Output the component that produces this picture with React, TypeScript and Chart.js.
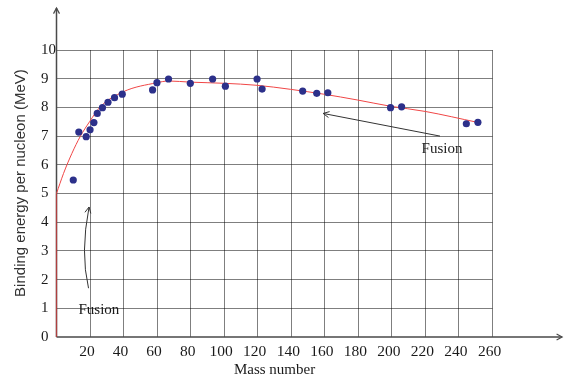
import { useEffect, useRef } from 'react';
import { Chart, registerables } from 'chart.js';

Chart.register(...registerables);

// Measured nuclides: mass number and binding energy per nucleon (MeV)
const massNumber = [10, 13.3, 17.7, 20, 22.3, 24.3, 27.4, 30.7, 34.6, 39.2, 57.3, 59.9, 66.8, 79.8, 93.1, 100.7, 119.6, 122.6, 146.8, 155.2, 161.8, 199.2, 205.8, 244.4, 251.3];
const bindingEnergy = [5.47, 7.14, 6.98, 7.22, 7.47, 7.79, 7.99, 8.18, 8.34, 8.46, 8.61, 8.86, 8.99, 8.84, 8.99, 8.74, 8.99, 8.64, 8.57, 8.49, 8.51, 7.99, 8.02, 7.43, 7.48];

// Red trend curve
const curveMass = [0, 4.2, 9.2, 14.1, 19.7, 26.1, 40, 59.9, 66.8, 79.8, 99.8, 119.6, 139.5, 159.4, 179.3, 199.2, 219.8, 251];
const curveEnergy = [5, 5.7, 6.4, 6.98, 7.5, 8.02, 8.55, 8.86, 8.92, 8.88, 8.84, 8.77, 8.63, 8.46, 8.26, 8.04, 7.86, 7.48];
const riseMass = [0, 0];
const riseEnergy = [0, 5];

const xTickValues = [20, 40, 60, 80, 100, 120, 140, 160, 180, 200, 220, 240, 260];
const yTickValues = [0, 1, 2, 3, 4, 5, 6, 7, 8, 9, 10];

const xTitle = 'Mass number';
const yTitle = 'Binding energy per nucleon (MeV)';
const annotationText = 'Fusion';

// annotation anchors in data units
const leftArrow = { tail: [19.1, 1.7], ctrl: [14.1, 2.94], tip: [19.4, 4.53] };
const rightArrow = { tail: [228.7, 7.0], tip: [159, 7.79] };
const leftLabel = [25.3, 0.94];
const rightLabel = [229.9, 6.54];
const axisEnds = { x: 301.5, y: 11.46 };

const SERIF = '"Liberation Serif", "Times New Roman", serif';
const SANS = '"Liberation Sans", Arial, sans-serif';
const GRID = 'rgba(0,0,0,0.5)';

function head(ctx: CanvasRenderingContext2D, tx: number, ty: number, fx: number, fy: number, len: number, half: number) {
  const a = Math.atan2(ty - fy, tx - fx);
  const ux = Math.cos(a), uy = Math.sin(a);
  const bx = tx - ux * len, by = ty - uy * len;
  ctx.beginPath();
  ctx.moveTo(bx - uy * half, by + ux * half);
  ctx.lineTo(tx, ty);
  ctx.lineTo(bx + uy * half, by - ux * half);
  ctx.stroke();
}

const decorPlugin = {
  id: 'decor',
  beforeDatasetsDraw(chart: any) {
    const { ctx, scales } = chart;
    const xs = scales.x, ys = scales.y;
    const x0 = xs.getPixelForValue(0), y0 = ys.getPixelForValue(0);
    const xEnd = xs.getPixelForValue(axisEnds.x);
    const yEnd = ys.getPixelForValue(axisEnds.y);
    ctx.save();
    ctx.strokeStyle = '#4a4a4a';
    ctx.lineWidth = 1.5;
    ctx.beginPath();
    ctx.moveTo(x0, y0);
    ctx.lineTo(x0, yEnd);
    ctx.moveTo(x0, y0);
    ctx.lineTo(xEnd, y0);
    ctx.stroke();
    ctx.lineWidth = 1.2;
    head(ctx, x0, yEnd, x0, y0, 5.5, 3);
    head(ctx, xEnd, y0, x0, y0, 5.5, 3);
    ctx.restore();
  },
  afterDraw(chart: any) {
    const { ctx, scales } = chart;
    const xs = scales.x, ys = scales.y;
    const P = (p: number[]) => [xs.getPixelForValue(p[0]), ys.getPixelForValue(p[1])];
    ctx.save();
    ctx.strokeStyle = '#333';
    ctx.lineWidth = 1;
    const [lx0, ly0] = P(leftArrow.tail);
    const [lcx, lcy] = P(leftArrow.ctrl);
    const [ltx, lty] = P(leftArrow.tip);
    ctx.beginPath();
    ctx.moveTo(lx0, ly0);
    ctx.quadraticCurveTo(lcx, lcy, ltx, lty);
    ctx.stroke();
    head(ctx, ltx, lty, lcx, lcy, 6, 3);
    const [rx0, ry0] = P(rightArrow.tail);
    const [rtx, rty] = P(rightArrow.tip);
    ctx.beginPath();
    ctx.moveTo(rx0, ry0);
    ctx.lineTo(rtx, rty);
    ctx.stroke();
    head(ctx, rtx, rty, rx0, ry0, 6, 3);
    ctx.fillStyle = '#1a1a1a';
    ctx.font = `15px ${SERIF}`;
    ctx.textAlign = 'center';
    ctx.textBaseline = 'middle';
    const [a1, b1] = P(leftLabel);
    ctx.fillText(annotationText, a1, b1);
    const [a2, b2] = P(rightLabel);
    ctx.fillText(annotationText, a2, b2);
    ctx.restore();
  },
};

export default function App() {
  const ref = useRef<HTMLCanvasElement | null>(null);
  useEffect(() => {
    if (!ref.current) return;
    const chart = new Chart(ref.current, {
      type: 'scatter',
      data: {
        datasets: [
          {
            data: massNumber.map((m, i) => ({ x: m, y: bindingEnergy[i] })),
            backgroundColor: 'rgb(44,48,138)',
            borderWidth: 0,
            pointRadius: 3.6,
            order: 0,
          },
          {
            data: curveMass.map((m, i) => ({ x: m, y: curveEnergy[i] })),
            showLine: true,
            borderColor: 'rgb(240,70,70)',
            borderWidth: 1,
            pointRadius: 0,
            cubicInterpolationMode: 'monotone',
            clip: false,
            order: 1,
          },
          {
            data: riseMass.map((m, i) => ({ x: m, y: riseEnergy[i] })),
            showLine: true,
            borderColor: 'rgba(200,60,60,0.8)',
            borderWidth: 1.2,
            pointRadius: 0,
            clip: false,
            order: 2,
          },
        ] as any,
      },
      options: {
        animation: false,
        responsive: false,
        layout: { padding: { left: 0, top: 50, right: 85.5, bottom: 0 } },
        plugins: { legend: { display: false }, tooltip: { enabled: false } },
        scales: {
          x: {
            type: 'linear',
            position: 'bottom',
            min: 0,
            max: 260,
            afterFit: (s: any) => { s.height = 51; },
            afterBuildTicks: (s: any) => { s.ticks = [0, ...xTickValues].map((v) => ({ value: v })); },
            ticks: {
              callback: (v: any) => (v === 0 ? '' : String(v)),
              font: { family: SERIF, size: 15.5 },
              color: '#1a1a1a',
              padding: 6,
              labelOffset: -3,
              maxRotation: 0,
              autoSkip: false,
            },
            grid: {
              drawTicks: false,
              lineWidth: 1,
              color: (c: any) => (c.tick && c.tick.value === 0 ? 'rgba(0,0,0,0)' : GRID),
            },
            border: { display: false },
            title: {
              display: true,
              text: xTitle,
              font: { family: SERIF, size: 15 },
              color: '#1a1a1a',
              padding: { top: 0, bottom: 9 },
            },
          },
          y: {
            type: 'linear',
            position: 'left',
            weight: 0,
            min: 0,
            max: 10,
            afterFit: (s: any) => { s.width = 15.5; },
            afterBuildTicks: (s: any) => { s.ticks = yTickValues.map((v) => ({ value: v })); },
            ticks: {
              crossAlign: 'far',
              font: { family: SERIF, size: 15 },
              color: '#1a1a1a',
              padding: 0,
            },
            grid: {
              drawTicks: false,
              lineWidth: 1,
              color: (c: any) => (c.tick && c.tick.value === 0 ? 'rgba(0,0,0,0)' : GRID),
            },
            border: { display: false },
          },
          yTitle: {
            type: 'linear',
            position: 'left',
            weight: 1,
            min: 0,
            max: 10,
            afterFit: (s: any) => { s.width = 41; },
            ticks: { display: false },
            grid: { display: false, drawTicks: false },
            border: { display: false },
            title: {
              display: true,
              text: '     ' + yTitle,
              font: { family: SANS, size: 15 },
              color: '#333',
              padding: { top: 12, bottom: 0 },
            },
          },
        },
      } as any,
      plugins: [decorPlugin],
    });
    return () => chart.destroy();
  }, []);
  return (
    <div style={{ position: 'fixed', left: 0, top: 0, width: 578, height: 388, background: '#fff' }}>
      <canvas ref={ref} width={578} height={388} style={{ display: 'block' }} />
    </div>
  );
}
